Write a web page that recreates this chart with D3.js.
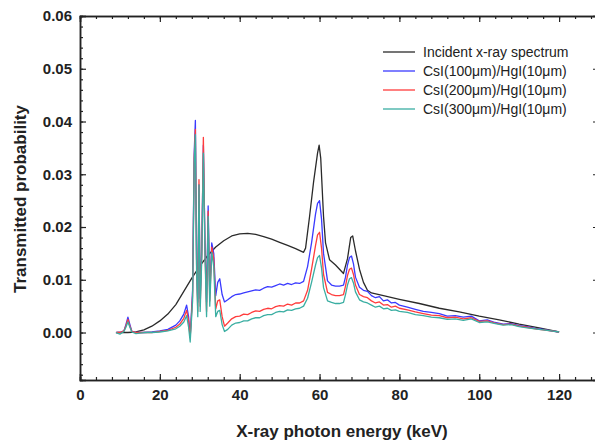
<!DOCTYPE html>
<html>
<head>
<meta charset="utf-8">
<script src="https://cdn.jsdelivr.net/npm/d3@7/dist/d3.min.js"></script>
<style>
  body { margin: 0; background: #fff; }
  text { font-family: "Liberation Sans", Arial, sans-serif; }
</style>
</head>
<body>
<div id="chart"></div>
<script>
// incident spectrum (black)
var incidentE = [9.3, 12, 14, 16, 18, 20, 22, 24, 26, 28, 30, 32, 34, 36, 38, 40, 42, 44, 46, 48, 50, 52, 54, 56,
    56.5, 57.5, 58.5, 59.5, 59.9, 60.3, 61, 61.5, 62.5, 64, 66, 67, 67.8, 68.3, 69, 70, 71, 72, 73, 76, 80, 85,
    90, 95, 100, 105, 110, 115, 120];
var incident = [0, 0, 0.0001, 0.0005, 0.0012, 0.0022, 0.0035, 0.0053, 0.0078, 0.0103, 0.0126, 0.0146, 0.0162,
    0.0174, 0.0183, 0.0187, 0.0188, 0.0186, 0.0182, 0.0177, 0.0171, 0.0165, 0.0159, 0.0152,
    0.0160, 0.0220, 0.0285, 0.0340, 0.0355, 0.0330, 0.0220, 0.0170, 0.0138, 0.0128, 0.0112, 0.0140, 0.0180,
    0.0183, 0.0155, 0.0120, 0.0095, 0.0080, 0.0075, 0.0070, 0.0063, 0.0055, 0.0046, 0.0039, 0.0031, 0.0024,
    0.0016, 0.0009, 0.0001];

// transmitted curves share one energy grid
var energy = [9, 10, 11, 11.5, 12, 12.5, 13, 14, 16, 18, 20, 22, 24, 25, 26, 26.7, 27.2, 27.6, 28.2, 28.6,
    28.9, 29.2, 29.5, 29.8, 30.1, 30.5, 30.9, 31.3, 31.7, 32.1, 32.5, 33.0, 33.5, 34.0, 34.5, 35.0, 35.6, 36.2,
    37, 38, 39, 40, 41, 42, 43, 44, 45, 46, 47, 48, 49, 50, 51, 52, 53, 54, 55, 56, 57, 58, 59, 59.5, 60, 60.5,
    61, 62, 63, 64, 65, 66, 66.5, 67, 67.5, 68, 68.5, 69, 70, 71, 72, 73, 74, 75, 76, 77, 78, 79, 80, 82, 84,
    86, 88, 90, 92, 94, 96, 98, 100, 102, 104, 106, 108, 110, 112, 114, 116, 118, 120];

var csi100 = [0, 0, 0.0003, 0.0015, 0.0029, 0.0015, 0.0002, 0, 0, 0.0001, 0.0003, 0.0006, 0.0014, 0.0022,
    0.0035, 0.0052, 0.0030, -0.0008, 0.008, 0.034, 0.0402, 0.014, 0.0058, 0.028, 0.0065, 0.016, 0.0355, 0.017,
    0.0058, 0.024, 0.0075, 0.0170, 0.0150, 0.0070, 0.0095, 0.0102, 0.0072, 0.0058,
    0.0062, 0.0068, 0.0072, 0.0073, 0.0075, 0.0077, 0.0079, 0.0081, 0.0080, 0.0084, 0.0087, 0.0086, 0.0089,
    0.0092, 0.0090, 0.0093, 0.0091, 0.0094, 0.0093, 0.0097, 0.0125, 0.0170, 0.0225, 0.0245, 0.0250, 0.0215,
    0.0150, 0.0098, 0.0090, 0.0088, 0.0088, 0.0090, 0.0105, 0.0128, 0.0142, 0.0145, 0.0130, 0.0105, 0.0086,
    0.0080, 0.0078, 0.0070, 0.0066, 0.0068, 0.0060, 0.0062, 0.0056, 0.0057, 0.0052, 0.0048, 0.0044, 0.0040,
    0.0038, 0.0036, 0.0031, 0.0032, 0.0029, 0.0031, 0.0022, 0.0024, 0.0019, 0.0016, 0.0017, 0.0013, 0.0011,
    0.0008, 0.0006, 0.0003, 0.0001];

var csi200 = [0, 0, 0.0003, 0.0013, 0.0025, 0.0012, 0.0002, 0, 0, 0, 0.0002, 0.0004, 0.0010, 0.0016,
    0.0027, 0.0042, 0.0022, -0.0010, 0.007, 0.033, 0.0385, 0.013, 0.004, 0.029, 0.005, 0.015, 0.0370, 0.016,
    0.004, 0.023, 0.006, 0.0162, 0.0140, 0.0045, 0.0060, 0.0062, 0.0030, 0.0012,
    0.0018, 0.0026, 0.0030, 0.0031, 0.0035, 0.0034, 0.0038, 0.0041, 0.0040, 0.0044, 0.0046, 0.0045, 0.0049,
    0.0051, 0.0050, 0.0054, 0.0052, 0.0056, 0.0056, 0.0060, 0.0080, 0.0120, 0.0165, 0.0185, 0.0190, 0.0160,
    0.0110, 0.0076, 0.0072, 0.0070, 0.0070, 0.0072, 0.0088, 0.0108, 0.0120, 0.0122, 0.0110, 0.0090, 0.0072,
    0.0068, 0.0066, 0.0060, 0.0056, 0.0058, 0.0052, 0.0053, 0.0048, 0.0050, 0.0046, 0.0043, 0.0039, 0.0036,
    0.0033, 0.0032, 0.0028, 0.0029, 0.0026, 0.0028, 0.0021, 0.0022, 0.0018, 0.0015, 0.0016, 0.0012, 0.0010,
    0.0007, 0.0005, 0.0003, 0.0001];

var csi300 = [0, -0.0003, 0.0002, 0.0010, 0.0020, 0.0010, 0.0001, -0.0002, 0, 0, 0.0001, 0.0003, 0.0007, 0.0012,
    0.0020, 0.0032, 0.0010, -0.0018, 0.006, 0.032, 0.0375, 0.012, 0.003, 0.028, 0.004, 0.014, 0.0340, 0.015,
    0.003, 0.022, 0.005, 0.0152, 0.0125, 0.0030, 0.0040, 0.0042, 0.0015, 0.0002,
    0.0006, 0.0014, 0.0018, 0.0019, 0.0022, 0.0022, 0.0026, 0.0028, 0.0028, 0.0032, 0.0034, 0.0034, 0.0038,
    0.0040, 0.0039, 0.0043, 0.0042, 0.0045, 0.0046, 0.0050, 0.0065, 0.0095, 0.0128, 0.0142, 0.0146, 0.0122,
    0.0085, 0.0060, 0.0057, 0.0055, 0.0055, 0.0057, 0.0072, 0.0090, 0.0102, 0.0104, 0.0094, 0.0077, 0.0062,
    0.0058, 0.0056, 0.0052, 0.0048, 0.0050, 0.0045, 0.0046, 0.0042, 0.0043, 0.0040, 0.0038, 0.0034, 0.0032,
    0.0029, 0.0028, 0.0025, 0.0026, 0.0023, 0.0026, 0.0019, 0.0020, 0.0017, 0.0014, 0.0015, 0.0011, 0.0009,
    0.0007, 0.0005, 0.0003, 0.0001];

var seriesNames = ["Incident x-ray spectrum", "CsI(100\u03bcm)/HgI(10\u03bcm)",
    "CsI(200\u03bcm)/HgI(10\u03bcm)", "CsI(300\u03bcm)/HgI(10\u03bcm)"];
var seriesColors = ["#2a2a2a", "#3a3aff", "#ff3c3c", "#3aaea2"];

var xTicks = [0, 20, 40, 60, 80, 100, 120];
var yTicks = [0.00, 0.01, 0.02, 0.03, 0.04, 0.05, 0.06];

var width = 595, height = 441;

var x = d3.scaleLinear().domain([0, 132]).range([80, 607]);
var y = d3.scaleLinear().domain([-0.009, 0.06]).range([380, 16]);

var svg = d3.select("#chart")
    .append("svg")
    .attr("width", width)
    .attr("height", height);

var line = d3.line()
    .x(function(d) { return x(d[0]); })
    .y(function(d) { return y(d[1]); });

var series = [
    {name: seriesNames[0], color: seriesColors[0], data: d3.zip(incidentE, incident)},
    {name: seriesNames[1], color: seriesColors[1], data: d3.zip(energy, csi100)},
    {name: seriesNames[2], color: seriesColors[2], data: d3.zip(energy, csi200)},
    {name: seriesNames[3], color: seriesColors[3], data: d3.zip(energy, csi300)}
];

svg.selectAll(".curve")
    .data(series)
    .enter().append("path")
    .attr("class", "curve")
    .attr("d", function(d) { return line(d.data); })
    .attr("fill", "none")
    .attr("stroke", function(d) { return d.color; })
    .attr("stroke-width", 1.3)
    .attr("stroke-linejoin", "round");

// minor ticks
var xMinor = d3.range(0, 133, 4);
var yMinor = d3.range(-0.008, 0.0601, 0.002);

function styleAxis(g) {
    g.selectAll("path.domain").attr("stroke", "#222").attr("stroke-width", 1.5);
    g.selectAll(".tick line").attr("stroke", "#222").attr("stroke-width", 1.2);
    g.selectAll("text")
        .attr("fill", "#222")
        .style("font-size", "15px")
        .style("font-weight", "bold");
}

// bottom
svg.append("g")
    .attr("transform", "translate(0,380)")
    .call(d3.axisBottom(x).tickValues(xMinor).tickSize(-3).tickFormat(""))
    .call(styleAxis);
svg.append("g")
    .attr("transform", "translate(0,380)")
    .call(d3.axisBottom(x).tickValues(xTicks).tickSize(-6).tickPadding(9).tickFormat(d3.format("d")))
    .call(styleAxis);

// top
svg.append("g")
    .attr("transform", "translate(0,16)")
    .call(d3.axisTop(x).tickValues(xMinor).tickSize(-3).tickFormat(""))
    .call(styleAxis);
svg.append("g")
    .attr("transform", "translate(0,16)")
    .call(d3.axisTop(x).tickValues(xTicks).tickSize(-6).tickFormat(""))
    .call(styleAxis);

// left
svg.append("g")
    .attr("transform", "translate(80,0)")
    .call(d3.axisLeft(y).tickValues(yMinor).tickSize(-3).tickFormat(""))
    .call(styleAxis);
svg.append("g")
    .attr("transform", "translate(80,0)")
    .call(d3.axisLeft(y).tickValues(yTicks).tickSize(-6).tickPadding(8).tickFormat(d3.format(".2f")))
    .call(styleAxis);

// right
svg.append("g")
    .attr("transform", "translate(607,0)")
    .call(d3.axisRight(y).tickValues(yMinor).tickSize(-3).tickFormat(""))
    .call(styleAxis);
svg.append("g")
    .attr("transform", "translate(607,0)")
    .call(d3.axisRight(y).tickValues(yTicks).tickSize(-14).tickFormat(""))
    .call(styleAxis);

// axis titles
svg.append("text")
    .attr("x", 342)
    .attr("y", 437)
    .attr("text-anchor", "middle")
    .style("font-size", "17px")
    .style("font-weight", "bold")
    .attr("fill", "#222")
    .text("X-ray photon energy (keV)");

svg.append("text")
    .attr("transform", "translate(26,199) rotate(-90)")
    .attr("text-anchor", "middle")
    .style("font-size", "17px")
    .style("font-weight", "bold")
    .attr("fill", "#222")
    .text("Transmitted probability");

// legend
var legend = svg.selectAll(".legend")
    .data(series)
    .enter().append("g")
    .attr("class", "legend")
    .attr("transform", function(d, i) { return "translate(383," + (52 + i * 19) + ")"; });

legend.append("line")
    .attr("x1", 0).attr("x2", 32)
    .attr("y1", 0).attr("y2", 0)
    .attr("stroke", function(d) { return d.color; })
    .attr("stroke-width", 1.3);

legend.append("text")
    .attr("x", 40)
    .attr("y", 5)
    .style("font-size", "14px")
    .attr("fill", "#222")
    .text(function(d) { return d.name; });
</script>
</body>
</html>
